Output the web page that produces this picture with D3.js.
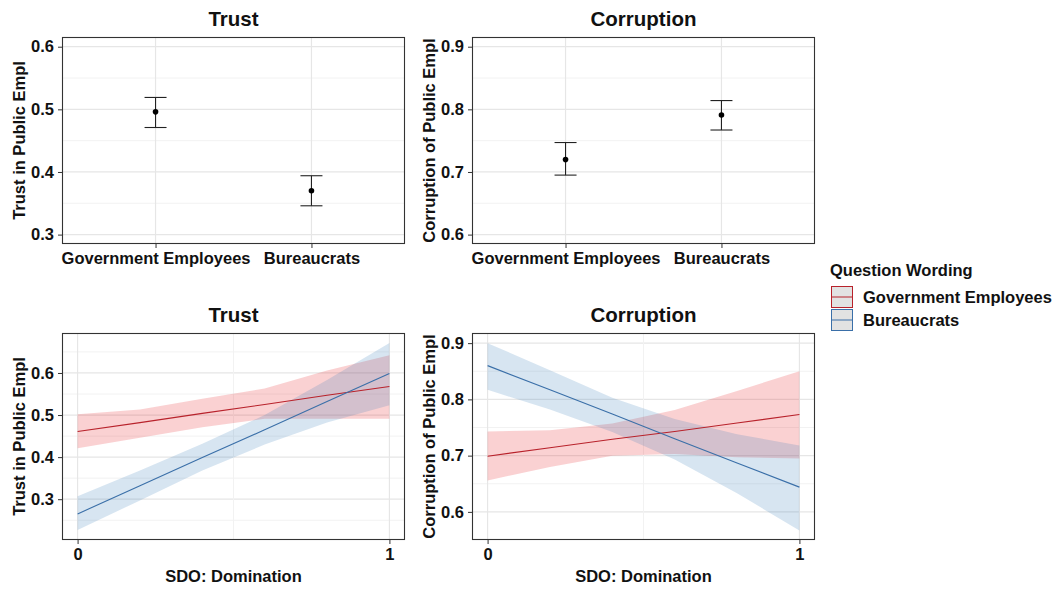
<!DOCTYPE html>
<html><head><meta charset="utf-8">
<script src="https://cdn.jsdelivr.net/npm/d3@7"></script>
<style>body{margin:0;background:#fff;} text{font-family:"Liberation Sans",Arial,sans-serif;font-weight:bold;fill:#111;}</style>
</head><body><svg id="c" width="1056" height="590"></svg>
<script>
// ---- data ----
const categories = ["Government Employees", "Bureaucrats"];
const trustMean = [0.496, 0.370];
const trustLow  = [0.471, 0.346];
const trustHigh = [0.519, 0.394];
const corrMean  = [0.720, 0.791];
const corrLow   = [0.695, 0.767];
const corrHigh  = [0.747, 0.814];

const sdoX = [0, 0.2, 0.4, 0.6, 0.8, 1];
const trustGE     = [0.461, 0.482, 0.504, 0.525, 0.547, 0.568];
const trustGELow  = [0.421, 0.446, 0.471, 0.491, 0.491, 0.491];
const trustGEHigh = [0.502, 0.513, 0.539, 0.563, 0.606, 0.642];
const trustBU     = [0.265, 0.332, 0.399, 0.465, 0.532, 0.599];
const trustBULow  = [0.227, 0.297, 0.368, 0.430, 0.482, 0.523];
const trustBUHigh = [0.307, 0.368, 0.432, 0.500, 0.583, 0.671];
const corrGE      = [0.699, 0.714, 0.729, 0.743, 0.758, 0.773];
const corrGELow   = [0.656, 0.680, 0.700, 0.703, 0.697, 0.695];
const corrGEHigh  = [0.743, 0.745, 0.757, 0.781, 0.815, 0.850];
const corrBU      = [0.860, 0.817, 0.774, 0.730, 0.687, 0.644];
const corrBULow   = [0.817, 0.782, 0.742, 0.693, 0.633, 0.567];
const corrBUHigh  = [0.900, 0.852, 0.803, 0.765, 0.738, 0.718];

const trustTicks = [0.3, 0.4, 0.5, 0.6];
const corrTicks  = [0.6, 0.7, 0.8, 0.9];
const sdoTicks   = [0, 1];
const legendTitle = "Question Wording";
const seriesNames = ["Government Employees", "Bureaucrats"];

// ---- styles ----
const RED = "#b8222b", BLUE = "#3a6fa8";
const RED_FILL = "#E41A1C", BLUE_FILL = "#377EB8";
const FS = "16.5px", TFS = "20.5px";
const svg = d3.select("#c");

function panelFrame(g, x, y, w, h) {
  g.append("rect").attr("x", x).attr("y", y).attr("width", w).attr("height", h).attr("fill", "#fff");
}
function drawBorder(g, x, y, w, h) {
  g.append("rect").attr("x", x + 0.5).attr("y", y + 0.5).attr("width", w - 1).attr("height", h - 1)
    .attr("fill", "none").attr("stroke", "#333").attr("stroke-width", 1.1);
}
function yGrid(g, ys, x0, x1, ticks) {
  const minor = [];
  for (let i = 0; i < ticks.length - 1; i++) minor.push((ticks[i] + ticks[i + 1]) / 2);
  minor.push(ticks[0] - 0.05); minor.push(ticks[ticks.length - 1] + 0.05);
  const [d0, d1] = ys.domain();
  minor.filter(v => v >= Math.min(d0, d1) && v <= Math.max(d0, d1)).forEach(v => {
    g.append("line").attr("x1", x0).attr("x2", x1).attr("y1", ys(v)).attr("y2", ys(v))
      .attr("stroke", "#f2f2f2").attr("stroke-width", 1);
  });
  ticks.forEach(v => {
    g.append("line").attr("x1", x0).attr("x2", x1).attr("y1", ys(v)).attr("y2", ys(v))
      .attr("stroke", "#e6e6e6").attr("stroke-width", 1.2);
  });
}
function styleAxis(a) {
  a.select(".domain").remove();
  a.selectAll("line").attr("stroke", "#333");
  a.selectAll("text").style("font-size", FS).attr("fill", "#111").style("font-family", "Liberation Sans, Arial");
}
function yAxis(g, ys, x0, ticks) {
  const ax = d3.axisLeft(ys).tickValues(ticks).tickFormat(d3.format(".1f")).tickSize(4).tickPadding(4);
  styleAxis(g.append("g").attr("transform", `translate(${x0},0)`).call(ax));
}
function title(g, txt, cx, y) {
  g.append("text").attr("x", cx).attr("y", y).attr("text-anchor", "middle").style("font-size", TFS).text(txt);
}
function yLabel(g, txt, cx, cy) {
  g.append("text").attr("transform", `translate(${cx},${cy}) rotate(-90)`).attr("text-anchor", "middle")
    .attr("dy", "0.35em").style("font-size", FS).text(txt);
}

// ---- top panels ----
function topPanel(px, label, ttl, ticks, domain, mean, lo, hi) {
  const py = 37, pw = 343, ph = 207;
  const g = svg.append("g");
  panelFrame(g, px, py, pw, ph);
  const xs = d3.scalePoint().domain(categories).range([px, px + pw]).padding(0.6);
  const ys = d3.scaleLinear().domain(domain).range([py + ph, py]);
  yGrid(g, ys, px, px + pw, ticks);
  categories.forEach(c => g.append("line").attr("x1", xs(c)).attr("x2", xs(c)).attr("y1", py).attr("y2", py + ph)
    .attr("stroke", "#e6e6e6").attr("stroke-width", 1.2));
  categories.forEach((c, i) => {
    const x = xs(c);
    g.append("line").attr("x1", x).attr("x2", x).attr("y1", ys(lo[i])).attr("y2", ys(hi[i])).attr("stroke", "#222").attr("stroke-width", 1.1);
    [lo[i], hi[i]].forEach(v => g.append("line").attr("x1", x - 11).attr("x2", x + 11).attr("y1", ys(v)).attr("y2", ys(v)).attr("stroke", "#222").attr("stroke-width", 1.1));
    g.append("circle").attr("cx", x).attr("cy", ys(mean[i])).attr("r", 2.8).attr("fill", "#000");
  });
  drawBorder(g, px, py, pw, ph);
  yAxis(g, ys, px, ticks);
  const xa = d3.axisBottom(xs).tickSize(4).tickPadding(4);
  styleAxis(g.append("g").attr("transform", `translate(0,${py + ph})`).call(xa));
  title(g, ttl, px + pw / 2, 26);
  yLabel(g, label, px - 43, py + ph / 2);
}
topPanel(62, "Trust in Public Empl", "Trust", trustTicks, [0.285, 0.6155], trustMean, trustLow, trustHigh);
topPanel(472, "Corruption of Public Empl", "Corruption", corrTicks, [0.585, 0.9155], corrMean, corrLow, corrHigh);

// ---- bottom panels ----
function bottomPanel(px, label, ttl, ticks, domain, series) {
  const py = 333, pw = 343, ph = 207;
  const g = svg.append("g");
  panelFrame(g, px, py, pw, ph);
  const xs = d3.scaleLinear().domain([-0.05, 1.05]).range([px, px + pw]);
  const ys = d3.scaleLinear().domain(domain).range([py + ph, py]);
  yGrid(g, ys, px, px + pw, ticks);
  g.append("line").attr("x1", xs(0.5)).attr("x2", xs(0.5)).attr("y1", py).attr("y2", py + ph).attr("stroke", "#f2f2f2");
  sdoTicks.forEach(v => g.append("line").attr("x1", xs(v)).attr("x2", xs(v)).attr("y1", py).attr("y2", py + ph)
    .attr("stroke", "#e6e6e6").attr("stroke-width", 1.2));
  const area = d3.area().x(d => xs(d.x)).y0(d => ys(d.lo)).y1(d => ys(d.hi));
  const line = d3.line().x(d => xs(d.x)).y(d => ys(d.y));
  series.forEach(s => {
    const pts = sdoX.map((x, i) => ({ x, y: s.y[i], lo: s.lo[i], hi: s.hi[i] }));
    g.append("path").datum(pts).attr("d", area).attr("fill", s.fill).attr("fill-opacity", 0.2);
  });
  series.forEach(s => {
    const pts = sdoX.map((x, i) => ({ x, y: s.y[i] }));
    g.append("path").datum(pts).attr("d", line).attr("fill", "none").attr("stroke", s.col).attr("stroke-width", 1.1);
  });
  drawBorder(g, px, py, pw, ph);
  yAxis(g, ys, px, ticks);
  const xa = d3.axisBottom(xs).tickValues(sdoTicks).tickFormat(d3.format("d")).tickSize(4).tickPadding(4);
  styleAxis(g.append("g").attr("transform", `translate(0,${py + ph})`).call(xa));
  g.append("text").attr("x", px + pw / 2).attr("y", 582).attr("text-anchor", "middle").style("font-size", FS).text("SDO: Domination");
  title(g, ttl, px + pw / 2, 322);
  yLabel(g, label, px - 43, py + ph / 2);
}
bottomPanel(62, "Trust in Public Empl", "Trust", trustTicks, [0.203, 0.695], [
  { y: trustGE, lo: trustGELow, hi: trustGEHigh, col: RED, fill: RED_FILL },
  { y: trustBU, lo: trustBULow, hi: trustBUHigh, col: BLUE, fill: BLUE_FILL }]);
bottomPanel(472, "Corruption of Public Empl", "Corruption", corrTicks, [0.55, 0.918], [
  { y: corrGE, lo: corrGELow, hi: corrGEHigh, col: RED, fill: RED_FILL },
  { y: corrBU, lo: corrBULow, hi: corrBUHigh, col: BLUE, fill: BLUE_FILL }]);

// ---- legend ----
const lg = svg.append("g");
lg.append("text").attr("x", 830).attr("y", 276).style("font-size", FS).text(legendTitle);
const legCols = [RED, BLUE];
seriesNames.forEach((n, i) => {
  const y0 = 286 + i * 23;
  lg.append("rect").attr("x", 831.5).attr("y", y0 + 0.5).attr("width", 21).attr("height", 21)
    .attr("fill", "#e2e2e2").attr("stroke", legCols[i]).attr("stroke-width", 1);
  lg.append("line").attr("x1", 832).attr("x2", 852).attr("y1", y0 + 11).attr("y2", y0 + 11).attr("stroke", legCols[i]).attr("stroke-width", 1);
  lg.append("text").attr("x", 863).attr("y", y0 + 11).attr("dy", "0.35em").style("font-size", FS).text(n);
});
</script></body></html>
